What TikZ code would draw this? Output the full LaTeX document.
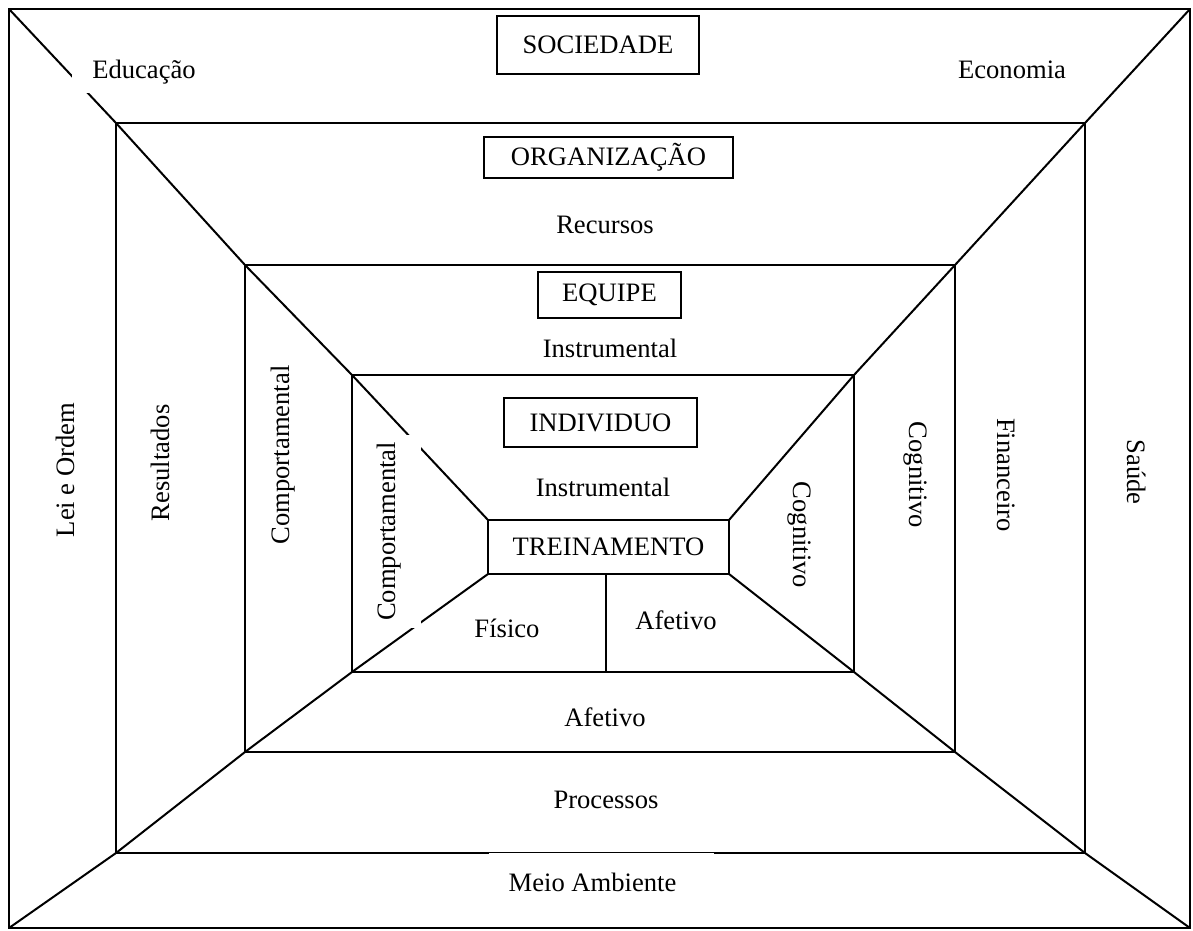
\documentclass[tikz,border=0pt]{standalone}
\usepackage{fontspec}
\setmainfont{Liberation Serif}
\begin{document}
\begin{tikzpicture}[x=1pt,y=-1pt,
  line width=2pt, line join=miter,
  every node/.style={font=\fontsize{26.6}{32}\selectfont, inner sep=0pt, outer sep=0pt},
  titlebox/.style={draw, line width=2pt},
  cover/.style={fill=white},
  up/.style={rotate=90},
  down/.style={rotate=-90}]
\useasboundingbox (0,0) rectangle (1193,930);

% nested frames, outermost to innermost
\coordinate (o1) at (9,9);     \coordinate (o2) at (1190,9);
\coordinate (o3) at (1190,928); \coordinate (o4) at (9,928);
\coordinate (g1) at (116,123); \coordinate (g2) at (1085,123);
\coordinate (g3) at (1085,853); \coordinate (g4) at (116,853);
\coordinate (e1) at (245,265); \coordinate (e2) at (955,265);
\coordinate (e3) at (955,752); \coordinate (e4) at (245,752);
\coordinate (i1) at (352,375); \coordinate (i2) at (854,375);
\coordinate (i3) at (854,672); \coordinate (i4) at (352,672);

\draw (o1) rectangle (o3);
\draw (g1) rectangle (g3);
\draw (e1) rectangle (e3);
\draw (i1) rectangle (i3);

% central box
\node[titlebox, minimum width=241pt, minimum height=54pt] (trein) at (608.5,547) {TREINAMENTO};

% diagonals from each corner towards the centre
\draw (o1) -- (g1) -- (e1) -- (i1) -- (trein.north west);
\draw (o2) -- (g2) -- (e2) -- (i2) -- (trein.north east);
\draw (o3) -- (g3) -- (e3) -- (i3) -- (trein.south east);
\draw (o4) -- (g4) -- (e4) -- (i4) -- (trein.south west);

% divider under the central box
\coordinate (divtop) at (606,574);
\coordinate (divbot) at (606,672);
\draw (divtop) -- (divbot);

% level titles
\node[titlebox, minimum width=202pt, minimum height=58pt] (soc) at (598,45) {SOCIEDADE};
\node[titlebox, minimum width=249pt, minimum height=41pt] (org) at (608.5,157.5) {ORGANIZAÇÃO};
\node[titlebox, minimum width=143pt, minimum height=46pt] (equ) at (609.5,295) {EQUIPE};
\node[titlebox, minimum width=193pt, minimum height=49pt] (ind) at (600.5,422.5) {INDIVIDUO};

% society level
\node[cover, minimum width=144pt, minimum height=42pt] (educ) at (144,72) {Educação};
\node (econ) at (1012,70) {Economia};
\node[up] (lei) at (65,470) {Lei e Ordem};
\node[down] (saude) at (1137,472) {Saúde};
\node[cover, minimum width=225pt, minimum height=58pt] (meio) at (601.5,882) {\hspace*{-18pt}Meio Ambiente};

% organization level
\node (recursos) at (605,225) {Recursos};
\node[up] (result) at (160,463) {Resultados};
\node[down] (financ) at (1006,475) {Financeiro};
\node (proc) at (606,800) {Processos};

% team level
\node (instrE) at (610,348) {Instrumental};
\node[up] (compE) at (283,455) {Comportamental};
\node[down] (cogE) at (915,475) {Cognitivo};
\node (afetE) at (605,717) {Afetivo};

% individual level
\node (instrI) at (603,487) {Instrumental};
\node[up, cover, minimum width=193pt, minimum height=64pt] (compI) at (389,531.5) {Comportamental};
\node[down] (cogI) at (799,535) {Cognitivo};
\node (fis) at (507,628) {Físico};
\node (afetI) at (676,620) {Afetivo};
\end{tikzpicture}
\end{document}
